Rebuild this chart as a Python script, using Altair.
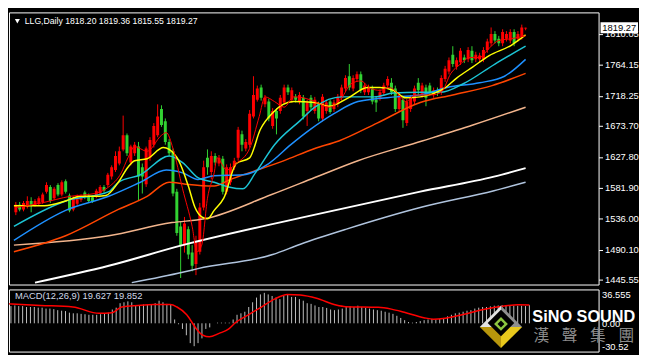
import altair as alt
import pandas as pd

# ---------------- data ----------------
SYMBOL = "LLG,Daily"
LAST_OHLC = [1818.20, 1819.36, 1815.55, 1819.27]
MACD_LABEL = "MACD(12,26,9) 19.627 19.852"

OPEN = [1545.7, 1556.8, 1549.9, 1554.1, 1562.4, 1556.8, 1558.2, 1561.0, 1576.3, 1583.3,
        1566.6, 1586.0, 1572.1, 1591.6, 1570.7, 1549.9, 1558.2, 1563.8, 1574.9, 1570.7,
        1568.0, 1569.4, 1573.5, 1583.3, 1586.0, 1598.6, 1608.3, 1618.0, 1638.9, 1659.8,
        1619.4, 1633.3, 1643.1, 1612.5, 1587.4, 1626.4, 1645.9, 1659.8, 1698.7, 1680.6,
        1650.0, 1636.1, 1576.3, 1524.8, 1497.0, 1520.7, 1485.9, 1469.2, 1487.3, 1552.7,
        1626.4, 1605.5, 1629.2, 1618.0, 1625.0, 1576.3, 1590.2, 1612.5, 1626.4, 1661.2,
        1640.3, 1645.9, 1687.6, 1712.6, 1730.7, 1705.7, 1709.8, 1673.7, 1695.9, 1695.9,
        1708.5, 1730.7, 1712.6, 1716.8, 1709.8, 1715.4, 1695.9, 1715.4, 1695.9, 1705.7,
        1684.8, 1695.9, 1709.8, 1698.7, 1705.7, 1715.4, 1729.3, 1747.4, 1729.3, 1743.2,
        1750.2, 1723.8, 1723.8, 1729.3, 1712.6, 1715.4, 1722.4, 1733.5, 1737.7, 1729.3,
        1698.7, 1712.6, 1677.9, 1698.7, 1709.8, 1737.7, 1719.6, 1730.7, 1733.5, 1719.6,
        1726.5, 1723.8, 1743.2, 1754.4, 1779.4, 1761.3, 1768.3, 1775.2, 1772.4, 1785.0,
        1772.4, 1772.4, 1772.4, 1786.4, 1796.1, 1810.0, 1803.0, 1796.1, 1803.0, 1800.3,
        1812.8, 1803.0, 1805.8, 1818.20]
HIGH = [1561.0, 1561.0, 1562.4, 1569.4, 1568.0, 1565.2, 1569.4, 1574.9, 1590.2, 1586.0,
        1583.3, 1588.8, 1593.0, 1594.4, 1573.5, 1569.4, 1572.1, 1572.1, 1577.7, 1573.5,
        1570.7, 1580.5, 1586.0, 1586.0, 1604.1, 1615.3, 1636.1, 1643.1, 1689.0, 1662.5,
        1645.9, 1650.0, 1650.0, 1618.0, 1643.1, 1657.0, 1677.9, 1705.7, 1704.3, 1684.8,
        1654.2, 1640.3, 1580.5, 1531.8, 1538.8, 1524.8, 1497.0, 1510.9, 1559.6, 1622.2,
        1638.9, 1636.1, 1633.3, 1630.6, 1629.2, 1616.7, 1618.0, 1626.4, 1672.3, 1666.7,
        1654.2, 1697.3, 1747.4, 1733.5, 1734.9, 1719.6, 1714.0, 1700.1, 1700.1, 1719.6,
        1734.9, 1734.9, 1730.7, 1721.0, 1723.8, 1719.6, 1712.6, 1719.6, 1716.8, 1709.8,
        1721.0, 1712.6, 1712.6, 1712.6, 1721.0, 1734.9, 1748.8, 1765.5, 1748.8, 1754.4,
        1754.4, 1737.7, 1734.9, 1733.5, 1716.8, 1727.9, 1737.7, 1747.4, 1744.6, 1733.5,
        1723.8, 1716.8, 1714.0, 1719.6, 1733.5, 1744.6, 1737.7, 1734.9, 1737.7, 1730.7,
        1730.7, 1748.8, 1762.7, 1775.2, 1791.9, 1775.2, 1789.1, 1779.4, 1790.5, 1791.9,
        1783.6, 1782.2, 1790.5, 1803.0, 1819.7, 1814.2, 1807.2, 1817.0, 1814.2, 1817.0,
        1817.0, 1814.2, 1823.9, 1819.36]
LOW = [1541.5, 1547.1, 1547.1, 1551.3, 1545.7, 1554.1, 1555.4, 1558.2, 1573.5, 1559.6,
       1563.8, 1569.4, 1569.4, 1573.5, 1545.7, 1547.1, 1555.4, 1561.0, 1565.2, 1559.6,
       1559.6, 1566.6, 1570.7, 1574.9, 1583.3, 1594.4, 1605.5, 1615.3, 1636.1, 1629.2,
       1615.3, 1629.2, 1563.8, 1573.5, 1583.3, 1622.2, 1641.7, 1657.0, 1672.3, 1645.9,
       1629.2, 1569.4, 1510.9, 1448.3, 1485.9, 1476.2, 1458.1, 1452.5, 1483.1, 1548.5,
       1601.3, 1594.4, 1615.3, 1613.9, 1572.1, 1572.1, 1586.0, 1608.3, 1622.2, 1636.1,
       1636.1, 1641.7, 1684.8, 1709.8, 1711.2, 1701.5, 1680.6, 1669.5, 1661.2, 1691.8,
       1705.7, 1719.6, 1708.5, 1708.5, 1705.7, 1683.4, 1673.7, 1697.3, 1691.8, 1680.6,
       1680.6, 1691.8, 1691.8, 1694.5, 1701.5, 1711.2, 1725.1, 1726.5, 1725.1, 1739.1,
       1722.4, 1719.6, 1719.6, 1705.7, 1694.5, 1711.2, 1718.2, 1729.3, 1719.6, 1694.5,
       1694.5, 1670.9, 1673.7, 1694.5, 1705.7, 1719.6, 1715.4, 1702.9, 1719.6, 1715.4,
       1718.2, 1719.6, 1739.1, 1750.2, 1761.3, 1757.1, 1764.1, 1766.9, 1768.3, 1766.9,
       1768.3, 1768.3, 1768.3, 1782.2, 1791.9, 1796.1, 1791.9, 1791.9, 1798.9, 1796.1,
       1791.9, 1798.9, 1801.7, 1815.55]
CLOSE = [1556.8, 1549.9, 1559.6, 1562.4, 1556.8, 1562.4, 1566.6, 1572.1, 1586.0, 1562.4,
         1580.5, 1572.1, 1590.2, 1576.3, 1548.5, 1566.6, 1569.4, 1569.4, 1569.4, 1562.4,
         1562.4, 1577.7, 1583.3, 1577.7, 1601.3, 1612.5, 1629.2, 1636.1, 1659.8, 1633.3,
         1643.1, 1645.9, 1598.6, 1598.6, 1640.3, 1652.8, 1673.7, 1687.6, 1675.1, 1650.0,
         1633.3, 1573.5, 1515.1, 1497.0, 1529.0, 1483.1, 1466.4, 1501.2, 1552.7, 1612.5,
         1612.5, 1629.2, 1619.4, 1626.4, 1576.3, 1612.5, 1612.5, 1622.2, 1668.1, 1645.9,
         1650.0, 1691.8, 1719.6, 1729.3, 1715.4, 1715.4, 1684.8, 1695.9, 1684.8, 1715.4,
         1730.7, 1723.8, 1726.5, 1712.6, 1719.6, 1687.6, 1708.5, 1701.5, 1712.6, 1684.8,
         1716.8, 1708.5, 1694.5, 1708.5, 1716.8, 1730.7, 1744.6, 1730.7, 1744.6, 1750.2,
         1726.5, 1733.5, 1730.7, 1709.8, 1708.5, 1723.8, 1733.5, 1743.2, 1723.8, 1698.7,
         1719.6, 1682.0, 1709.8, 1715.4, 1729.3, 1726.5, 1733.5, 1715.4, 1723.8, 1726.5,
         1722.4, 1744.6, 1758.5, 1771.1, 1765.5, 1771.1, 1785.0, 1771.1, 1786.4, 1771.1,
         1779.4, 1778.0, 1786.4, 1798.9, 1810.0, 1800.3, 1796.1, 1812.8, 1810.0, 1812.8,
         1796.1, 1810.0, 1819.7, 1819.27]

# moving averages: (bar index, price)
MA_RED_X = [0, 6.75, 14.25, 20.5, 24.25, 27.5, 29.25, 31, 34.25, 38, 39.25, 41, 43.5, 46, 47.25,
            48.5, 50, 51.75, 52.5, 55, 57.5, 61, 63.5, 65, 67.5, 70, 72.5, 75, 78, 81.75, 85,
            87.5, 90, 92.5, 95, 97.5, 100, 101.75, 104.25, 108.5, 111, 113.5, 116, 118.5, 121,
            123.5, 126, 129.25, 133]
MA_RED_Y = [1552.7, 1559.6, 1569.4, 1573.5, 1583.3, 1604.1, 1626.4, 1643.1, 1636.1, 1659.8,
            1663.9, 1640.3, 1580.5, 1524.8, 1487.3, 1497.0, 1566.6, 1604.1, 1626.4, 1608.3,
            1618.0, 1640.3, 1687.6, 1716.8, 1709.8, 1701.5, 1716.8, 1715.4, 1709.8, 1701.5,
            1715.4, 1736.3, 1740.4, 1729.3, 1726.5, 1730.7, 1719.6, 1709.8, 1719.6, 1719.6,
            1723.8, 1751.6, 1765.5, 1775.2, 1775.2, 1789.1, 1800.3, 1803.0, 1807.2]
MA_YELLOW_X = [-0.5, 7.5, 13, 16.75, 20, 23.5, 26.75, 29.25, 31, 34.25, 38.5, 40, 42.5, 45,
               46.75, 48.5, 50, 51.75, 54.25, 57.5, 61, 63.75, 67.25, 69.75, 72.5, 78, 81.75,
               86.75, 91.75, 95, 98.5, 101.75, 105.5, 109.25, 111.75, 115, 119.25, 123.5,
               129.25, 133]
MA_YELLOW_Y = [1555.4, 1555.4, 1562.4, 1569.4, 1569.4, 1570.7, 1590.2, 1612.5, 1622.2, 1625.0,
               1641.7, 1638.9, 1622.2, 1584.6, 1552.7, 1538.8, 1536.0, 1548.5, 1566.6, 1618.0,
               1626.4, 1668.1, 1694.5, 1705.7, 1709.8, 1708.5, 1702.9, 1715.4, 1730.7, 1730.7,
               1726.5, 1715.4, 1716.8, 1722.4, 1729.3, 1744.6, 1761.3, 1778.0, 1793.3, 1808.6]
MA_CYAN_X = [-0.5, 13, 24.25, 26.75, 32.5, 40, 43.5, 47.5, 51.75, 55.5, 59.25, 62.5, 67.5,
             74.25, 78, 85, 93.5, 98.5, 105.5, 111, 116.75, 125, 133]
MA_CYAN_Y = [1524.8, 1562.4, 1576.3, 1590.2, 1601.3, 1629.2, 1619.4, 1597.2, 1590.2, 1583.3,
             1580.5, 1604.1, 1645.9, 1682.0, 1701.5, 1716.8, 1716.8, 1722.4, 1723.8, 1723.8,
             1736.3, 1765.5, 1791.9]
MA_BLUE_X = [-0.5, 13, 24.25, 32.5, 39.25, 43.5, 47.5, 51.75, 59.25, 66, 71.75, 76.75, 83,
             89.25, 99.25, 105.5, 112.5, 121, 127.5, 133]
MA_BLUE_Y = [1504.0, 1548.5, 1569.4, 1590.2, 1608.3, 1604.1, 1594.4, 1599.9, 1601.3, 1618.0,
             1645.9, 1668.1, 1691.8, 1709.8, 1716.8, 1719.6, 1730.7, 1737.7, 1747.4, 1772.4]
MA_ORANGE_X = [-0.5, 13, 26.75, 34.25, 40, 44.25, 51.75, 56, 70, 78, 84.25, 94.25, 105.5,
               114, 124.25, 133]
MA_ORANGE_Y = [1487.3, 1510.9, 1549.9, 1569.4, 1590.2, 1587.4, 1584.6, 1594.4, 1622.2, 1640.3,
               1651.4, 1677.9, 1708.5, 1719.6, 1733.5, 1751.6]
MA_TAN_X = [-0.5, 24.25, 40.75, 49.25, 66.75, 78, 89.25, 106, 119.25, 133]
MA_TAN_Y = [1497.0, 1510.9, 1530.4, 1536.0, 1572.1, 1597.2, 1622.2, 1651.4, 1675.1, 1701.5]
MA_WHITE_X = [5, 24.25, 43.5, 74.25, 105.5, 124.75, 133]
MA_WHITE_Y = [1441.4, 1466.4, 1497.0, 1537.4, 1576.3, 1598.6, 1611.1]
MA_STEEL_X = [30.25, 43.5, 47.5, 67, 74.25, 86.25, 105.5, 124.75, 133]
MA_STEEL_Y = [1441.4, 1456.7, 1462.2, 1483.1, 1498.4, 1520.7, 1552.7, 1577.7, 1590.2]

HIST = [18.6, 19.3, 18.6, 18.6, 17.6, 17.6, 17.6, 16.9, 16.9, 15.9,
        15.9, 15.3, 14.2, 13.6, 13.2, 11.5, 10.8, 10.8, 10.2, 9.8,
        9.2, 9.2, 9.2, 9.8, 10.8, 11.5, 14.9, 16.9, 21.7, 22.7,
        23.7, 22.7, 19.3, 19.3, 20.3, 20.3, 20.3, 21.7, 24.4, 22.7,
        21.0, 20.3, 4.1, -1.0, -6.1, -12.9, -21.4, -24.7, -21.4, -16.3,
        -6.1, -4.4, 0.0, 0.7, 0.7, 0.7, 0.7, 4.1, 9.2, 10.8,
        12.5, 17.6, 22.7, 27.8, 31.2, 32.9, 31.2, 29.5, 27.8, 26.1,
        29.5, 31.2, 28.5, 28.5, 26.1, 24.4, 21.7, 21.0, 19.3, 17.6,
        17.6, 16.6, 14.9, 14.2, 14.9, 15.9, 17.6, 18.3, 17.6, 19.0,
        17.6, 16.9, 15.9, 14.9, 14.2, 13.6, 12.5, 11.5, 10.2, 8.1,
        5.8, 3.4, 1.4, 0.7, 1.4, 2.4, 3.4, 4.1, 4.7, 4.1,
        4.7, 5.8, 7.5, 9.2, 10.8, 11.5, 12.5, 13.6, 14.2, 15.9,
        16.9, 17.6, 17.6, 18.3, 19.0, 19.3, 19.7, 19.7, 19.3, 19.0,
        19.0, 19.0, 18.6, 19.6]
SIGNAL_X = [-0.5, 7.6, 15.9, 22.6, 25.9, 28.4, 32.6, 36.75, 40.9, 42.6, 45.1, 47.6, 49.25,
            50.9, 53.4, 55.9, 57.6, 60.9, 64.25, 67.6, 70.9, 74.25, 78.4, 83.4, 85.9, 94.25,
            97.6, 100.9, 105.9, 108.4, 110.9, 114.25, 117.6, 120.9, 124.25, 127.6, 130.1, 133]
SIGNAL_Y = [21.0, 19.3, 17.6, 10.8, 11.5, 17.6, 19.3, 20.3, 20.3, 17.6, 9.2, -6.1, -12.9,
            -14.6, -10.8, -6.1, 0.7, 9.2, 17.6, 26.1, 31.2, 30.5, 27.0, 19.7, 18.0, 17.3,
            15.3, 11.9, 6.1, 4.4, 5.1, 7.8, 11.2, 14.6, 17.3, 19.3, 20.0, 19.852]

PRICE_TICKS = [1445.55, 1490.10, 1536.00, 1581.90, 1627.80, 1673.70, 1718.25, 1764.15, 1810.05]
MACD_TICKS = [36.555, 0.0, -30.52]
LOGO_TEXT = "SiNO SOUND"
LOGO_CHARS = ["漢", "聲", "集", "團"]

# ---------------- layout ----------------
W, HM, HD = 598, 276, 63
XD = [-0.5, 150.75]
YD = [1438.6, 1842.0]
MD = [-30.52, 36.555]
FONT = "Liberation Sans"

xenc = alt.X("i:Q", scale=alt.Scale(domain=XD, nice=False, zero=False), axis=None)
ysc = alt.Scale(domain=YD, nice=False, zero=False)
main_axis = alt.Axis(orient="right", values=PRICE_TICKS, format=".2f", title=None,
                     tickSize=4, tickColor="white", labelColor="white", labelFont=FONT,
                     labelFontSize=9.5, labelPadding=2, domain=False, grid=False,
                     labelOverlap=False)
msc = alt.Scale(domain=MD, nice=False, zero=False)
macd_axis = alt.Axis(orient="right", values=MACD_TICKS, title=None, ticks=False,
                     labelExpr="datum.value == 0 ? '0.00' : '' + datum.value",
                     labelColor="white", labelFont=FONT, labelFontSize=9.5, labelPadding=3,
                     labelFlush=True, domain=False, grid=False, labelOverlap=False)


def ymain(field):
    return alt.Y(field, scale=ysc, axis=main_axis)


def ymacd(field):
    return alt.Y(field, scale=msc, axis=macd_axis)


candles = pd.DataFrame({"i": list(range(len(OPEN))), "o": OPEN, "h": HIGH, "l": LOW, "c": CLOSE})
ccol = alt.condition("datum.c >= datum.o", alt.value("#ff0000"), alt.value("#32d232"))
base = alt.Chart(candles)
wicks = base.mark_rule(strokeWidth=1, clip=True).encode(x=xenc, y=ymain("l:Q"), y2="h:Q", color=ccol)
bodies = base.mark_bar(size=3, clip=True).encode(x=xenc, y=ymain("o:Q"), y2="c:Q", color=ccol)


def ma(xs, ys, color, width):
    df = pd.DataFrame({"i": xs, "v": ys})
    return alt.Chart(df).mark_line(color=color, strokeWidth=width, interpolate="monotone",
                                   clip=True).encode(x=xenc, y=ymain("v:Q"))


lines = [
    ma(MA_STEEL_X, MA_STEEL_Y, "#b0c4de", 1.5),
    ma(MA_WHITE_X, MA_WHITE_Y, "#ffffff", 2),
    ma(MA_TAN_X, MA_TAN_Y, "#f2b48c", 1.5),
    ma(MA_ORANGE_X, MA_ORANGE_Y, "#ff4500", 1.5),
    ma(MA_BLUE_X, MA_BLUE_Y, "#1e90ff", 1.5),
    ma(MA_CYAN_X, MA_CYAN_Y, "#1cc4d4", 1.5),
    ma(MA_YELLOW_X, MA_YELLOW_Y, "#ffff00", 1.5),
    ma(MA_RED_X, MA_RED_Y, "#ff0000", 1),
]

title_df = pd.DataFrame({"t": [SYMBOL + "  " + " ".join(f"{v:.2f}" for v in LAST_OHLC)]})
title = alt.Chart(title_df).mark_text(align="left", baseline="middle", font=FONT, fontSize=8.8,
                                      color="white").encode(x=alt.value(16), y=alt.value(9), text="t:N")
tri = alt.Chart(title_df).mark_point(shape="triangle-down", filled=True, size=26, color="white",
                                     opacity=1).encode(x=alt.value(8.5), y=alt.value(9))

last_df = pd.DataFrame({"p": [LAST_OHLC[3]], "t": [f"{LAST_OHLC[3]:.2f}"]})
box = alt.Chart(last_df).mark_point(shape="M-1,-0.29L1,-0.29L1,0.29L-1,0.29Z", filled=True,
                                    size=1444, color="white", opacity=1).encode(
    x=alt.value(W + 21), y=ymain("p:Q"))
box_txt = alt.Chart(last_df).mark_text(font=FONT, fontSize=9.5, color="black", baseline="middle").encode(
    x=alt.value(W + 21), y=ymain("p:Q"), text="t:N")

main = alt.layer(wicks, bodies, *lines, title, tri, box, box_txt).properties(width=W, height=HM)

# ---------------- MACD panel ----------------
hist_df = pd.DataFrame({"i": list(range(len(HIST))), "m": HIST})
hist = alt.Chart(hist_df).mark_rule(color="#c0c0c0", strokeWidth=1, clip=True).encode(
    x=xenc, y=ymacd("m:Q"), y2=alt.Y2Datum(0))
sig_df = pd.DataFrame({"i": SIGNAL_X, "s": SIGNAL_Y})
sig = alt.Chart(sig_df).mark_line(color="#ff0000", strokeWidth=1.5, interpolate="monotone",
                                  clip=True).encode(x=xenc, y=ymacd("s:Q"))
mtitle_df = pd.DataFrame({"t": [MACD_LABEL]})
mtitle = alt.Chart(mtitle_df).mark_text(align="left", baseline="middle", font=FONT, fontSize=9.5,
                                        color="#d0d8e8").encode(x=alt.value(6), y=alt.value(7), text="t:N")

logo_df = pd.DataFrame({"t": [LOGO_TEXT]})
LX, LY = 499, 38


def tri_part(path, color, size):
    return alt.Chart(logo_df).mark_point(shape=path, filled=True, size=size, color=color,
                                         opacity=1, strokeWidth=0).encode(x=alt.value(LX), y=alt.value(LY))


logo = [
    tri_part("M-1,0L0,-1L0,0Z", "#e2e2e2", 1849),
    tri_part("M0,-1L1,0L0,0Z", "#8e8e8e", 1849),
    tri_part("M-1,0L0,1L0,0Z", "#b8960c", 1849),
    tri_part("M1,0L0,1L0,0Z", "#e8c81c", 1849),
    alt.Chart(logo_df).mark_point(shape="diamond", filled=True, size=729, color="black", opacity=1,
                                  strokeWidth=0).encode(x=alt.value(LX), y=alt.value(LY - 4)),
    alt.Chart(logo_df).mark_point(shape="diamond", filled=True, size=196, color="#8dc63f", opacity=1,
                                  strokeWidth=0).encode(x=alt.value(LX), y=alt.value(LY - 3)),
    alt.Chart(logo_df).mark_point(shape="diamond", filled=True, size=49, color="black", opacity=1,
                                  strokeWidth=0).encode(x=alt.value(LX), y=alt.value(LY - 3)),
    alt.Chart(logo_df).mark_text(font=FONT, fontSize=16.5, fontWeight="bold", color="white",
                                 baseline="middle", align="center").encode(
        x=alt.value(583), y=alt.value(28.5), text="t:N"),
]
for k, ch in enumerate(LOGO_CHARS):
    cdf = pd.DataFrame({"t": [ch]})
    logo.append(alt.Chart(cdf).mark_text(font="Noto Sans CJK TC", fontSize=16, color="#8c8c8c",
                                         baseline="middle", align="center").encode(
        x=alt.value(540 + 28.7 * k), y=alt.value(47), text="t:N"))

macd = alt.layer(hist, sig, mtitle, *logo).properties(width=W, height=HD)

chart = alt.vconcat(main, macd, spacing=3).properties(
    background="black", padding={"left": 0, "top": 1, "right": 0, "bottom": 0}
).configure_view(stroke="white", strokeWidth=1, fill="black")

chart.save("out.html", embed_options={"renderer": "svg", "actions": False})
